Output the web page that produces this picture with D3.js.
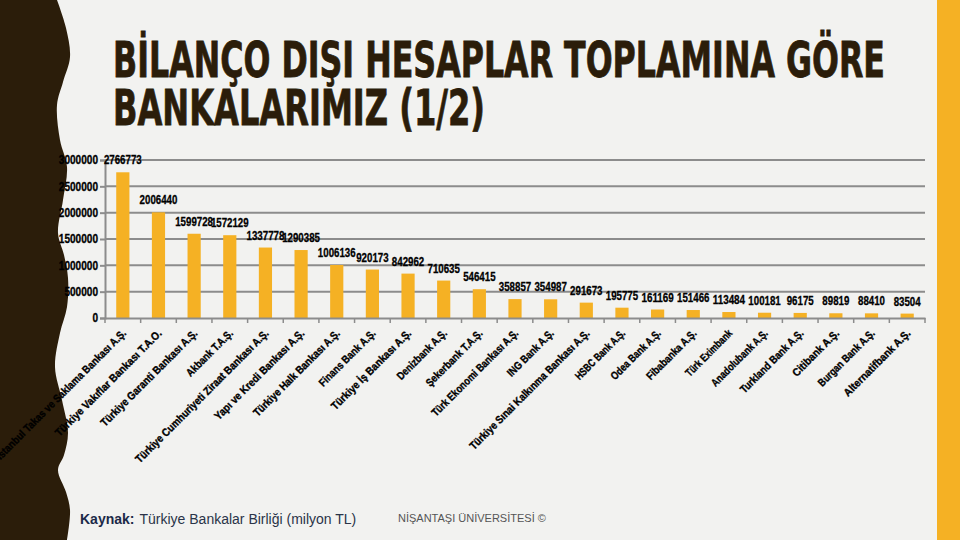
<!DOCTYPE html>
<html>
<head>
<meta charset="utf-8">
<script src="https://cdn.jsdelivr.net/npm/d3@7"></script>
<style>
  html, body { margin: 0; padding: 0; background: #f2f2f0; }
  svg { display: block; }
</style>
</head>
<body>
<svg id="chart" width="960" height="540"></svg>
<script>
// ---- data ----
const banks = [
  "İstanbul Takas ve Saklama Bankası A.Ş.",
  "Türkiye Vakıflar Bankası T.A.O.",
  "Türkiye Garanti Bankası A.Ş.",
  "Akbank T.A.Ş.",
  "Türkiye Cumhuriyeti Ziraat Bankası A.Ş.",
  "Yapı ve Kredi Bankası A.Ş.",
  "Türkiye Halk Bankası A.Ş.",
  "Finans Bank A.Ş.",
  "Türkiye İş Bankası A.Ş.",
  "Denizbank A.Ş.",
  "Şekerbank T.A.Ş.",
  "Türk Ekonomi Bankası A.Ş.",
  "ING Bank A.Ş.",
  "Türkiye Sınai Kalkınma Bankası A.Ş.",
  "HSBC Bank A.Ş.",
  "Odea Bank A.Ş.",
  "Fibabanka A.Ş.",
  "Türk Eximbank",
  "Anadolubank A.Ş.",
  "Turkland Bank A.Ş.",
  "Citibank A.Ş.",
  "Burgan Bank A.Ş.",
  "Alternatifbank A.Ş."
];
const values = [2766773, 2006440, 1599728, 1572129, 1337778, 1290385, 1006136,
  920173, 842962, 710635, 546415, 358857, 354987, 291673, 195775, 161169,
  151466, 113484, 100181, 96175, 89819, 88410, 83504];
const yTicks = [0, 500000, 1000000, 1500000, 2000000, 2500000, 3000000];
const titleLines = ["BİLANÇO DIŞI HESAPLAR TOPLAMINA GÖRE", "BANKALARIMIZ (1/2)"];
const sourceLabel = "Kaynak:";
const sourceText = "Türkiye Bankalar Birliği (milyon TL)";
const footerText = "NİŞANTAŞI ÜNİVERSİTESİ ©";

// ---- styles ----
const BAR = "#f5b124";
const DARK = "#2b1d0a";
const GRID = "#8c8c8c";
const NARROW = "'Liberation Sans', Arial, sans-serif";

const svg = d3.select("#chart");
svg.append("rect").attr("width", 960).attr("height", 540).attr("fill", "#f2f2f0");

// left wavy decoration
const wave = [[57,0],[66,28],[70,57],[63,82],[57,105],[60,140],[67,167],[63,200],[58,233],
  [64,255],[68,278],[67,307],[60,333],[55,367],[62,400],[68,433],[64,455],[58,470],[66,492],[70,510],[67,540]];
const waveLine = d3.line().curve(d3.curveCatmullRom);
svg.append("path")
  .attr("d", "M0,0 L" + waveLine(wave).slice(1) + " L0,540 Z")
  .attr("fill", DARK);

// right accent bar
svg.append("rect").attr("x", 937).attr("y", 0).attr("width", 23).attr("height", 540).attr("fill", BAR);

// title
const title = svg.append("g");
title.append("text").attr("x", 113).attr("y", 77).text(titleLines[0])
  .attr("textLength", 772).attr("lengthAdjust", "spacingAndGlyphs");
title.append("text").attr("x", 113).attr("y", 125).text(titleLines[1])
  .attr("textLength", 372).attr("lengthAdjust", "spacingAndGlyphs");
title.selectAll("text")
  .attr("font-family", "'DejaVu Sans Condensed', 'DejaVu Sans', sans-serif")
  .attr("font-weight", "bold").attr("font-size", 50).attr("fill", DARK)
  .attr("stroke", DARK).attr("stroke-width", 0.8);

// scales
const x = d3.scaleBand().domain(banks).range([105, 925]).paddingInner(0.63).paddingOuter(0.315);
const y = d3.scaleLinear().domain([0, 3000000]).range([318, 160]);

// gridlines
svg.append("g").selectAll("line").data(yTicks.filter(d => d > 0)).join("line")
  .attr("x1", 105).attr("x2", 925)
  .attr("y1", d => y(d)).attr("y2", d => y(d))
  .attr("stroke", GRID).attr("stroke-width", 2);

// bars
svg.append("g").selectAll("rect").data(values).join("rect")
  .attr("x", (d, i) => x(banks[i]))
  .attr("width", x.bandwidth())
  .attr("y", d => y(d))
  .attr("height", d => y(0) - y(d))
  .attr("fill", BAR);

// y axis
const yAxis = svg.append("g").attr("transform", "translate(105,0)")
  .call(d3.axisLeft(y).tickValues(yTicks).tickFormat(d3.format("d")).tickSize(5).tickPadding(2));
yAxis.select(".domain").attr("stroke", GRID).attr("stroke-width", 2);
yAxis.selectAll(".tick line").attr("stroke", GRID).attr("stroke-width", 2);
yAxis.selectAll(".tick text").attr("font-family", NARROW).attr("font-weight", "bold")
  .attr("font-size", 12).attr("fill", "#000").attr("stroke", "#000").attr("stroke-width", 0.3)
  .attr("textLength", d => String(d).length * 5.6).attr("lengthAdjust", "spacingAndGlyphs");

// x axis
const xAxis = svg.append("g").attr("transform", "translate(0,318)")
  .call(d3.axisBottom(x).tickSize(0).tickFormat(""));
xAxis.select(".domain").attr("stroke", GRID).attr("stroke-width", 2);
// ticks at band boundaries
const bounds = banks.map((b, i) => x(b) - x.step() * x.paddingInner() / 2).concat([925]);
svg.append("g").selectAll("line").data(bounds).join("line")
  .attr("x1", d => d).attr("x2", d => d).attr("y1", 318).attr("y2", 323)
  .attr("stroke", GRID).attr("stroke-width", 1.5);

// category labels
svg.append("g").selectAll("text").data(banks).join("text")
  .attr("transform", d => `translate(${x(d) + x.bandwidth() / 2 + 4},${334}) rotate(-45)`)
  .attr("text-anchor", "end")
  .attr("font-family", NARROW).attr("font-weight", "bold").attr("font-size", 11)
  .attr("fill", "#000").attr("stroke", "#000").attr("stroke-width", 0.35)
  .attr("textLength", d => d.length * 4.7).attr("lengthAdjust", "spacingAndGlyphs")
  .text(d => d);

// value labels
svg.append("g").selectAll("text").data(values).join("text")
  .attr("x", (d, i) => x(banks[i]) + x.bandwidth() / 2)
  .attr("y", d => y(d) - 8)
  .attr("text-anchor", "middle")
  .attr("font-family", NARROW).attr("font-weight", "bold").attr("font-size", 12.5)
  .attr("fill", "#000").attr("stroke", "#000").attr("stroke-width", 0.3)
  .attr("textLength", d => String(d).length * 5.4).attr("lengthAdjust", "spacingAndGlyphs")
  .text(d => d);

// footer
const foot = svg.append("text").attr("x", 80).attr("y", 524)
  .attr("font-family", "'Liberation Sans', Arial, sans-serif").attr("font-size", 14).attr("fill", "#1c2a48");
foot.append("tspan").attr("font-weight", "bold").text(sourceLabel);
foot.append("tspan").attr("dx", 5).attr("fill", "#2a3448").text(sourceText);
svg.append("text").attr("x", 398).attr("y", 522)
  .attr("font-family", "'Liberation Sans', Arial, sans-serif").attr("font-size", 11)
  .attr("fill", "#555").text(footerText);
</script>
</body>
</html>
